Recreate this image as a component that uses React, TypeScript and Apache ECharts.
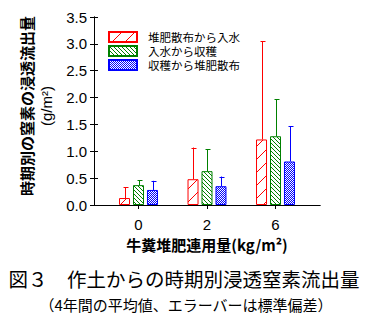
import React, { useEffect, useRef } from 'react';
import * as echarts from 'echarts';

const categories = ['0', '2', '6'];
const seriesNames = ['堆肥散布から入水', '入水から収穫', '収穫から堆肥散布'];
const meanA = [0.13, 0.48, 1.22];
const sdA = [0.2, 0.59, 1.83];
const meanB = [0.37, 0.63, 1.28];
const sdB = [0.095, 0.41, 0.69];
const meanC = [0.28, 0.35, 0.81];
const sdC = [0.17, 0.18, 0.66];
const yMin = 0;
const yMax = 3.5;
const yStep = 0.5;
const yAxisName = '時期別の窒素の浸透流出量';
const yAxisUnit = '(g/m²)';
const xAxisName = '牛糞堆肥連用量(kg/m²)';
const titleText = '図３　作土からの時期別浸透窒素流出量';
const subText = '（4年間の平均値、エラーバーは標準偏差）';

const colors = ['#ff0000', '#008000', '#0000ff'];
const JP = '"Noto Sans CJK JP", sans-serif';
const NUM = '"Liberation Sans", Arial, sans-serif';

function makeTile(n: number, bg: string, fg: string, draw: (px: (x: number, y: number) => void) => void) {
  const c = document.createElement('canvas');
  c.width = n;
  c.height = n;
  const ctx = c.getContext('2d') as CanvasRenderingContext2D;
  ctx.fillStyle = bg;
  ctx.fillRect(0, 0, n, n);
  ctx.fillStyle = fg;
  draw((x, y) => ctx.fillRect(x, y, 1, 1));
  return { image: c.toDataURL(), repeat: 'repeat', imageWidth: n, imageHeight: n };
}

export default function App() {
  const ref = useRef<HTMLDivElement>(null);
  useEffect(() => {
    document.body.style.margin = '0';
    if (!ref.current) return;
    const chart = echarts.init(ref.current, null, { renderer: 'svg' });
    const means = [meanA, meanB, meanC];
    const sds = [sdA, sdB, sdC];
    const fills: any[] = [
      makeTile(13, '#ffffff', colors[0], (px) => { for (let i = 0; i < 13; i++) px(i, 12 - i); }),
      makeTile(4, '#ffffff', colors[1], (px) => { for (let i = 0; i < 4; i++) px(i, i); }),
      makeTile(4, colors[2], '#ffffff', (px) => { px(0, 0); px(1, 1); px(2, 2); px(3, 3); px(2, 0); px(3, 1); px(0, 2); px(1, 3); }),
    ];
    const barSeries = seriesNames.map((name, i) => ({
      name,
      type: 'bar',
      xAxisIndex: 2,
      yAxisIndex: 2,
      barWidth: 11,
      barGap: '27%',
      data: means[i],
      itemStyle: { color: fills[i], borderColor: colors[i], borderWidth: 1 },
    }));
    const errSeries = seriesNames.map((name, i) => ({
      name: 'err' + i,
      type: 'custom',
      xAxisIndex: 2,
      yAxisIndex: 2,
      z: 5,
      data: categories.map((c, j) => [j, means[i][j], means[i][j] + sds[i][j]]),
      renderItem: (params: any, api: any) => {
        const off = (i - 1) * 14;
        const lo = api.coord([api.value(0), api.value(1)]);
        const hi = api.coord([api.value(0), api.value(2)]);
        const x = Math.round(lo[0] + off) + 0.5;
        const st = { stroke: colors[i], lineWidth: 1 };
        return {
          type: 'group',
          children: [
            { type: 'line', shape: { x1: x, y1: lo[1], x2: x, y2: hi[1] }, style: st },
            { type: 'line', shape: { x1: x - 2, y1: Math.round(hi[1]) + 0.5, x2: x + 3, y2: Math.round(hi[1]) + 0.5 }, style: st },
          ],
        };
      },
    }));
    const frameAxis = (pos: string) => ({
      gridIndex: 0,
      type: 'value',
      min: 0,
      max: 1,
      position: pos,
      axisLine: { show: true, lineStyle: { color: '#000', width: 1 } },
      axisTick: { show: false },
      axisLabel: { show: false },
      splitLine: { show: false },
    });
    const option: any = {
      animation: false,
      grid: [
        { left: 94, top: 17, width: 226, height: 188, show: false },
        { left: 104.25, top: 17, width: 205.5, height: 188, show: false },
      ],
      legend: {
        data: seriesNames,
        orient: 'vertical',
        left: 103,
        top: 26,
        itemWidth: 28,
        itemHeight: 10,
        itemGap: 2,
        icon: 'rect',
        textStyle: { fontSize: 11.5, color: '#000', fontFamily: JP, padding: [0, 0, 0, 6], lineHeight: 12 },
      },
      xAxis: [
        frameAxis('bottom'),
        frameAxis('top'),
        {
          gridIndex: 1,
          type: 'category',
          data: categories,
          axisLine: { show: false },
          axisTick: { show: true, alignWithLabel: true, length: 4, lineStyle: { color: '#000' } },
          axisLabel: { color: '#000', fontSize: 15, fontFamily: NUM, margin: 12 },
        },
      ],
      yAxis: [
        {
          gridIndex: 0,
          type: 'value',
          min: yMin,
          max: yMax,
          interval: yStep,
          position: 'left',
          axisLine: { show: true, lineStyle: { color: '#000', width: 1 } },
          axisTick: { show: true, inside: true, length: 4, lineStyle: { color: '#000' } },
          axisLabel: { color: '#000', fontSize: 15, fontFamily: NUM, margin: 7, formatter: (v: number) => v.toFixed(1) },
          splitLine: { show: false },
        },
        {
          gridIndex: 0,
          type: 'value',
          min: yMin,
          max: yMax,
          interval: yStep,
          position: 'right',
          axisLine: { show: true, lineStyle: { color: '#000', width: 1 } },
          axisTick: { show: true, inside: true, length: 4, lineStyle: { color: '#000' } },
          axisLabel: { show: false },
          splitLine: { show: false },
        },
        { gridIndex: 1, type: 'value', min: yMin, max: yMax, show: false },
      ],
      series: [...barSeries, ...errSeries],
      graphic: [
        {
          type: 'text', x: 26, y: 106, rotation: Math.PI / 2,
          style: { text: yAxisName, fontSize: 15, fontWeight: 'bold', fontFamily: JP, fill: '#000', align: 'center', verticalAlign: 'middle', textAlign: 'center', textVerticalAlign: 'middle' },
        },
        {
          type: 'text', x: 46, y: 106, rotation: Math.PI / 2,
          style: { text: yAxisUnit, fontSize: 15, fontFamily: NUM, fill: '#000', align: 'center', verticalAlign: 'middle', textAlign: 'center', textVerticalAlign: 'middle' },
        },
        {
          type: 'text', x: 207, y: 244,
          style: { text: xAxisName, fontSize: 15, fontWeight: 'bold', fontFamily: JP, fill: '#000', align: 'center', verticalAlign: 'middle', textAlign: 'center', textVerticalAlign: 'middle' },
        },
        {
          type: 'text', x: 184, y: 278,
          style: { text: titleText, fontSize: 19.5, fontFamily: JP, fill: '#000', align: 'center', verticalAlign: 'middle', textAlign: 'center', textVerticalAlign: 'middle' },
        },
        {
          type: 'text', x: 186, y: 304,
          style: { text: subText, fontSize: 15, fontFamily: JP, fill: '#000', align: 'center', verticalAlign: 'middle', textAlign: 'center', textVerticalAlign: 'middle' },
        },
      ],
    };
    chart.setOption(option);
    return () => chart.dispose();
  }, []);
  return <div ref={ref} style={{ width: 375, height: 330 }} />;
}
